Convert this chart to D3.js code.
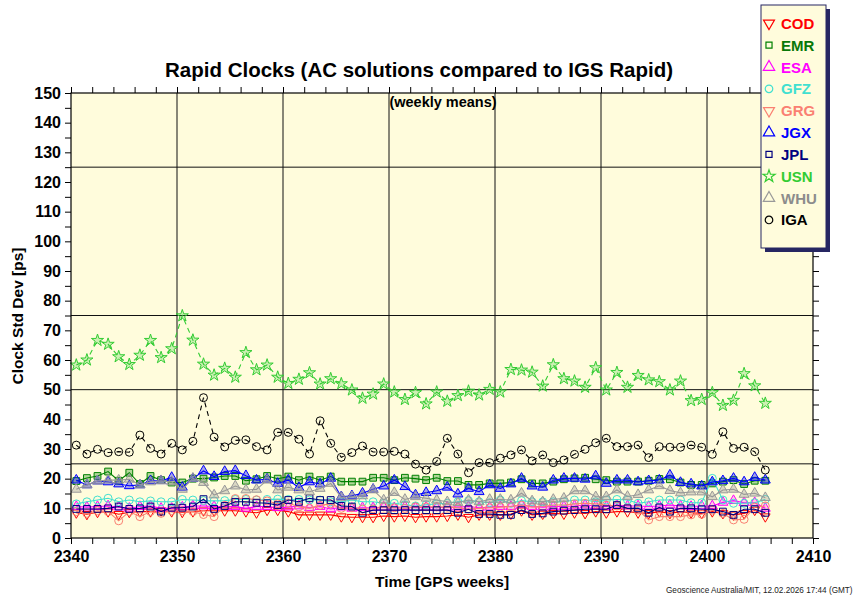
<!DOCTYPE html>
<html>
<head>
<meta charset="utf-8">
<script src="https://cdn.jsdelivr.net/npm/d3@7/dist/d3.min.js"></script>
<style>
body { margin: 0; background: #fff; }
svg { display: block; font-family: "Liberation Sans", Arial, Helvetica, sans-serif; }
</style>
</head>
<body>
<svg id="chart" width="853" height="597"></svg>
<script>
'use strict';

// GPS weeks 2340..2405, one weekly mean each
var weeks = d3.range(2340, 2406);

var cod = [8.5, 8.0, 8.7, 8.9, 8.0, 8.7, 8.9, 8.9, 9.2, 8.9, 8.7, 8.9, 9.2, 9.2, 9.2, 9.2, 8.9, 8.5,
	9.4, 9.4, 8.9, 7.8, 7.8, 7.8, 7.8, 7.2, 7.0, 7.0, 7.0, 7.4, 7.2, 7.4, 7.0, 7.2, 7.2, 7.4,
	7.8, 7.0, 7.8, 7.8, 7.8, 8.1, 9.2, 7.8, 8.1, 8.3, 8.1, 8.5, 8.3, 8.9, 8.5, 8.9, 8.9, 8.5,
	8.3, 8.9, 8.3, 8.9, 8.5, 8.3, 8.9, 8.3, 7.8, 8.3, 9.4, 7.2];
var emr = [19.2, 20.2, 20.9, 22.4, 19.3, 22.0, 18.2, 20.9, 19.5, 18.7, 18.7, 20.0, 20.0, 20.4, 20.9, 20.9, 19.3, 19.8,
	20.9, 20.0, 20.7, 19.5, 20.7, 19.5, 20.7, 19.0, 19.0, 19.0, 20.3, 20.3, 19.5, 20.3, 20.0, 19.5, 20.3, 19.2,
	19.2, 17.9, 17.9, 18.4, 18.4, 18.7, 19.8, 18.4, 18.4, 19.0, 19.8, 20.1, 20.3, 19.8, 19.5, 19.0, 19.0, 19.0,
	19.3, 19.9, 19.8, 18.7, 17.9, 17.9, 18.4, 19.0, 19.5, 18.2, 19.3, 19.3];
var esa = [10.6, 10.4, 10.6, 10.8, 10.4, 10.0, 10.6, 10.8, 10.0, 10.0, 10.4, 10.8, 10.8, 10.6, 10.6, 10.6, 10.0, 10.6,
	10.6, 10.2, 10.4, 10.8, 10.2, 10.6, 9.8, 10.4, 10.0, 10.2, 10.2, 10.4, 10.2, 10.6, 10.2, 10.4, 10.2, 10.4,
	10.4, 10.6, 10.2, 10.4, 10.6, 10.6, 11.1, 10.6, 10.4, 10.6, 10.6, 10.8, 11.1, 10.8, 10.6, 11.1, 10.8, 10.8,
	10.6, 10.8, 11.1, 10.8, 10.6, 10.8, 10.8, 12.0, 12.6, 11.9, 11.9, 10.0];
var gfz = [11.5, 12.2, 12.8, 13.4, 12.2, 12.8, 12.2, 12.5, 12.2, 12.2, 13.0, 12.8, 12.6, 12.5, 12.6, 13.0, 13.0, 12.8,
	13.0, 13.1, 13.0, 13.0, 12.8, 12.8, 12.2, 12.2, 12.8, 12.2, 12.2, 11.7, 11.7, 11.2, 10.8, 11.2, 11.5, 11.7,
	12.2, 12.6, 12.2, 11.9, 12.8, 11.7, 12.6, 12.2, 12.2, 12.2, 12.2, 12.8, 12.8, 12.2, 12.8, 13.0, 12.8, 11.7,
	12.2, 12.8, 12.8, 12.8, 11.9, 11.9, 20.1, 12.8, 11.7, 11.7, 11.9, 13.0];
var grg = [8.9, 8.3, 9.2, 8.9, 5.8, 8.9, 7.2, 8.9, 8.3, 9.2, 9.2, 8.9, 7.9, 7.2, 11.0, 13.3, 13.3, 12.9,
	12.5, 11.5, 11.8, 10.5, 10.0, 11.0, 11.5, 10.0, 10.2, 9.8, 9.8, 10.5, 10.2, 10.0, 10.5, 10.5, 10.5, 10.4,
	10.2, 9.8, 10.0, 10.2, 10.4, 10.6, 11.1, 10.4, 10.6, 11.1, 11.1, 11.5, 11.7, 11.5, 11.1, 10.8, 10.0, 9.4,
	6.1, 7.2, 7.2, 7.2, 7.8, 8.0, 9.4, 8.3, 6.1, 6.3, 10.4, 10.8];
var jgx = [19.5, 17.9, 19.2, 18.9, 18.2, 17.6, 17.9, 19.3, 19.3, 20.4, 17.1, 20.0, 22.6, 20.7, 22.4, 22.7, 21.0, 19.5,
	19.8, 18.4, 19.5, 17.0, 18.9, 18.2, 20.1, 13.9, 14.2, 15.1, 16.4, 17.5, 19.5, 17.3, 14.5, 15.3, 15.9, 17.1,
	14.8, 16.7, 15.6, 17.9, 16.7, 18.2, 20.1, 17.5, 17.1, 19.5, 20.1, 20.1, 19.8, 20.9, 18.4, 19.5, 19.5, 18.9,
	19.3, 19.5, 21.2, 18.7, 18.2, 17.5, 18.9, 19.3, 20.1, 18.9, 20.4, 19.5];
var jpl = [9.8, 9.8, 9.8, 10.0, 10.6, 9.8, 10.0, 10.6, 8.9, 10.2, 10.2, 10.6, 13.1, 9.8, 10.8, 12.2, 12.2, 11.9,
	11.7, 11.1, 12.8, 12.2, 13.4, 12.8, 12.8, 10.8, 10.6, 8.5, 9.4, 9.4, 9.4, 9.4, 9.4, 9.4, 9.4, 9.4,
	8.5, 9.7, 8.1, 8.1, 7.8, 7.8, 9.4, 8.1, 8.3, 8.9, 9.2, 9.4, 9.7, 9.7, 9.7, 11.1, 10.0, 10.0,
	8.5, 10.3, 8.9, 10.0, 10.0, 9.7, 9.7, 8.9, 7.8, 9.7, 9.7, 8.5];
var usn = [58.3, 60.0, 66.6, 65.3, 61.1, 58.5, 61.6, 66.6, 60.8, 63.8, 74.9, 66.7, 58.6, 54.9, 57.2, 54.2, 62.5, 56.7,
	58.3, 54.2, 52.1, 53.5, 55.7, 51.9, 53.7, 52.0, 49.9, 47.1, 48.5, 51.9, 49.2, 46.7, 49.0, 45.2, 49.2, 46.1,
	48.0, 49.5, 48.2, 50.1, 49.2, 56.8, 56.6, 55.9, 51.2, 58.4, 53.7, 52.9, 50.8, 57.4, 49.9, 55.8, 50.8, 54.8,
	53.3, 52.7, 49.9, 52.9, 46.3, 46.7, 49.0, 44.7, 46.4, 55.4, 51.3, 45.4];
var whu = [16.4, 17.9, 19.2, 19.5, 19.5, 19.8, 17.9, 18.9, 19.3, 18.9, 16.4, 20.1, 18.7, 14.5, 15.9, 17.5, 16.2, 16.4,
	19.5, 16.2, 17.1, 16.2, 15.6, 16.7, 18.4, 13.7, 13.9, 14.2, 16.2, 12.8, 15.3, 13.0, 13.9, 13.4, 12.8, 12.2,
	11.9, 12.8, 12.2, 13.0, 13.0, 12.8, 15.1, 12.5, 12.2, 13.0, 13.4, 15.9, 15.9, 13.9, 13.9, 16.2, 14.0, 14.6,
	16.2, 17.6, 16.0, 15.2, 15.5, 15.5, 13.9, 16.2, 16.4, 14.7, 15.1, 13.6];
var iga = [31.3, 28.3, 29.9, 28.8, 29.1, 28.9, 34.7, 30.2, 28.3, 31.9, 29.7, 32.6, 47.3, 34.0, 30.7, 32.9, 33.1, 30.8,
	29.7, 35.6, 35.6, 33.3, 28.3, 39.5, 31.9, 27.2, 28.8, 31.0, 29.0, 29.0, 29.2, 28.3, 24.9, 22.9, 25.8, 33.6,
	28.3, 22.0, 25.4, 25.4, 26.9, 28.0, 29.7, 26.0, 28.0, 25.4, 26.3, 28.2, 29.9, 32.1, 33.6, 30.8, 30.8, 31.3,
	27.1, 30.8, 30.6, 30.6, 31.3, 30.6, 28.2, 35.8, 30.2, 30.6, 29.1, 22.9];

var yTicks = d3.range(0, 151, 5);
var xTicks = d3.range(2340, 2411, 2);
var vGrid = [2350, 2360, 2370, 2380, 2390, 2400];
var hGrid = [25, 50, 75, 125];

// name, values, line colour, text colour, marker, legend marker, dashed, marker fill
var series = [
	{name: 'COD', values: cod, color: '#ff0000', text: '#ff0000', mark: 'down', key: 'down', dash: false, fill: 'none'},
	{name: 'EMR', values: emr, color: '#008000', text: '#087808', mark: 'square', key: 'square', dash: false, fill: 'rgba(0,128,0,0.3)'},
	{name: 'ESA', values: esa, color: '#ff00ff', text: '#ff00ff', mark: 'up', key: 'up', dash: false, fill: 'rgba(255,0,255,0.2)'},
	{name: 'GFZ', values: gfz, color: '#40e0d0', text: '#40e0d0', mark: 'circle', key: 'circle', dash: false, fill: 'none'},
	{name: 'GRG', values: grg, color: '#fa8072', text: '#fa8072', mark: 'circle', key: 'down', dash: false, fill: 'none'},
	{name: 'JGX', values: jgx, color: '#0000ff', text: '#0000ff', mark: 'up', key: 'up', dash: false, fill: 'rgba(0,0,255,0.35)'},
	{name: 'JPL', values: jpl, color: '#000080', text: '#000080', mark: 'square', key: 'square', dash: false, fill: 'none'},
	{name: 'USN', values: usn, color: '#33cc33', text: '#33cc33', mark: 'star', key: 'star', dash: true, fill: 'rgba(51,204,51,0.25)'},
	{name: 'WHU', values: whu, color: '#999999', text: '#8c8c8c', mark: 'up', key: 'up', dash: false, fill: 'rgba(150,150,150,0.35)'},
	{name: 'IGA', values: iga, color: '#000000', text: '#000000', mark: 'circle', key: 'circle', dash: true, fill: 'none'}
];

var x = d3.scaleLinear().domain([2340, 2410]).range([71, 813]);
var y = d3.scaleLinear().domain([0, 150]).range([538, 93]);

var svg = d3.select('#chart');

function symbolPath(kind, scale) {
	scale = scale || 1;
	var types = {up: d3.symbolTriangle, down: d3.symbolTriangle, square: d3.symbolSquare, circle: d3.symbolCircle, star: d3.symbolStar};
	var sizes = {up: 43, down: 40, square: 46, circle: 50, star: 46};
	return d3.symbol().type(types[kind]).size(sizes[kind] * scale)();
}
// legend glyph scale per marker kind
var keyScale = {up: 1.3, down: 1.3, square: 0.8, circle: 0.9, star: 1.0};

// plot background
svg.append('rect')
	.attr('x', x.range()[0]).attr('y', y.range()[1])
	.attr('width', x.range()[1] - x.range()[0])
	.attr('height', y.range()[0] - y.range()[1])
	.attr('fill', '#fffcdc');

// grid lines
var grid = svg.append('g').attr('stroke', '#111').attr('stroke-width', 1);
grid.selectAll('.vg').data(vGrid).enter().append('line')
	.attr('x1', d => x(d)).attr('x2', d => x(d))
	.attr('y1', y(0)).attr('y2', y(150));
grid.selectAll('.hg').data(hGrid).enter().append('line')
	.attr('y1', d => y(d)).attr('y2', d => y(d))
	.attr('x1', x(2340)).attr('x2', x(2410));

// series
var line = d3.line()
	.x(d => x(d[0] + 0.5))
	.y(d => y(d[1]));

series.forEach(function(s) {
	var pts = d3.zip(weeks, s.values);
	var g = svg.append('g').attr('class', 'series');
	g.append('path')
		.attr('d', line(pts))
		.attr('fill', 'none')
		.attr('stroke', s.color)
		.attr('stroke-width', 1.1)
		.attr('stroke-dasharray', s.dash ? '5,4' : null);
	g.selectAll('path.mk').data(pts).enter().append('path')
		.attr('class', 'mk')
		.attr('d', symbolPath(s.mark))
		.attr('transform', d => 'translate(' + x(d[0] + 0.5) + ',' + y(d[1]) + ')' + (s.mark === 'down' ? ' rotate(180)' : ''))
		.attr('fill', s.fill)
		.attr('stroke', s.color)
		.attr('stroke-width', 1);
});

// axes
function styleAxis(g) {
	g.select('.domain').remove();
	g.selectAll('.tick line').attr('stroke', '#000');
	g.selectAll('.tick text')
		.attr('fill', '#000')
		.style('font-size', '16px')
		.style('font-weight', 'bold')
		.style('font-family', '"Liberation Sans", Arial, sans-serif');
}
var lab10 = d => (d % 10 === 0 ? d : '');

svg.append('g').attr('transform', 'translate(0,' + y(0) + ')')
	.call(d3.axisBottom(x).tickValues(xTicks).tickSize(6).tickSizeOuter(0).tickPadding(7).tickFormat(lab10))
	.call(styleAxis);
svg.append('g').attr('transform', 'translate(0,' + y(150) + ')')
	.call(d3.axisTop(x).tickValues(xTicks).tickSize(6).tickSizeOuter(0).tickFormat(''))
	.call(styleAxis);
svg.append('g').attr('transform', 'translate(' + x(2340) + ',0)')
	.call(d3.axisLeft(y).tickValues(yTicks).tickSize(6).tickSizeOuter(0).tickPadding(4).tickFormat(lab10))
	.call(styleAxis);
svg.append('g').attr('transform', 'translate(' + x(2410) + ',0)')
	.call(d3.axisRight(y).tickValues(yTicks).tickSize(6).tickSizeOuter(0).tickFormat(''))
	.call(styleAxis);

// frame
svg.append('rect')
	.attr('x', x(2340)).attr('y', y(150))
	.attr('width', x(2410) - x(2340)).attr('height', y(0) - y(150))
	.attr('fill', 'none').attr('stroke', '#000').attr('stroke-width', 1.2);

// titles
svg.append('text')
	.attr('x', 419).attr('y', 77)
	.attr('text-anchor', 'middle')
	.style('font-size', '20.5px').style('font-weight', 'bold')
	.text('Rapid Clocks (AC solutions compared to IGS Rapid)');
svg.append('text')
	.attr('x', 443).attr('y', 107)
	.attr('text-anchor', 'middle')
	.style('font-size', '14.5px').style('font-weight', 'bold')
	.text('(weekly means)');
svg.append('text')
	.attr('x', 442).attr('y', 587)
	.attr('text-anchor', 'middle')
	.style('font-size', '15.5px').style('font-weight', 'bold')
	.text('Time [GPS weeks]');
svg.append('text')
	.attr('transform', 'translate(23,316) rotate(-90)')
	.attr('text-anchor', 'middle')
	.style('font-size', '15.5px').style('font-weight', 'bold')
	.text('Clock Std Dev [ps]');
svg.append('text')
	.attr('x', 666).attr('y', 593)
	.style('font-size', '8.2px').attr('fill', '#222')
	.text('Geoscience Australia/MIT, 12.02.2026 17:44 (GMT)');

// legend
var legend = svg.append('g');
legend.append('rect')
	.attr('x', 765).attr('y', 9).attr('width', 65).attr('height', 243)
	.attr('fill', '#262662');
legend.append('rect')
	.attr('x', 761).attr('y', 5).attr('width', 65).attr('height', 243)
	.attr('fill', '#fffcdc').attr('stroke', '#262662').attr('stroke-width', 1);
var rows = legend.selectAll('.row').data(series).enter().append('g')
	.attr('transform', (d, i) => 'translate(769,' + (23.3 + i * 21.85) + ')');
rows.append('path')
	.attr('d', d => symbolPath(d.key, keyScale[d.key]))
	.attr('transform', d => (d.key === 'down' ? 'rotate(180)' : null))
	.attr('fill', 'none')
	.attr('stroke', d => d.color)
	.attr('stroke-width', 1.2);
rows.append('text')
	.attr('x', 12).attr('y', 5.5)
	.attr('fill', d => d.text)
	.style('font-size', '15px').style('font-weight', 'bold')
	.text(d => d.name);
</script>
</body>
</html>
